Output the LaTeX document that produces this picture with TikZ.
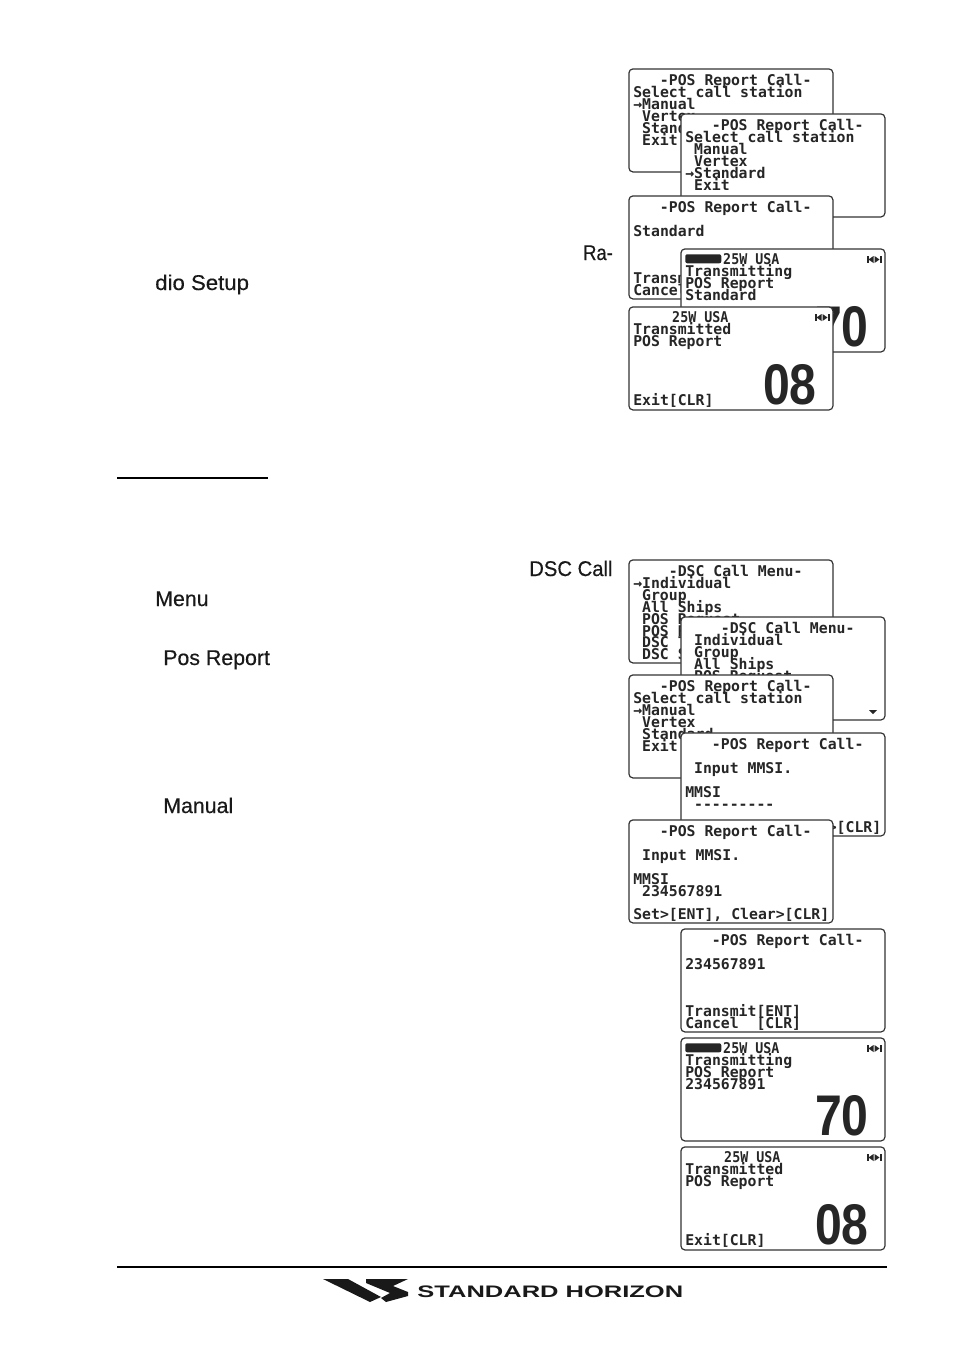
\documentclass[tikz,border=0pt]{standalone}
\usepackage{fontspec}
\setmainfont{Liberation Sans}
\newfontfamily\lcdfont{DejaVu Sans Mono}
\newfontfamily\bodyfont[FakeBold=.4]{Liberation Sans}
\tikzset{
    lcd/.style={draw=black!80,fill=white,line width=.9pt,rounded corners=3pt,anchor=north west,inner sep=0pt,minimum width=153pt,minimum height=77.25pt,xshift=-.5pt,yshift=.5pt},
    lcdtext/.style={anchor=base west,inner sep=0pt,font=\lcdfont\bfseries\fontsize{11.1}{12}\selectfont,text=black!85},
    lcdhead/.style={lcdtext,xscale=.9},
    lcdbig/.style={anchor=base east,inner sep=0pt,font=\bfseries\fontsize{43}{43}\selectfont,xscale=.84,text=black!85},
    lcdpill/.style={anchor=north west,fill=black!85,rounded corners=1.5pt,inner sep=0pt,minimum width=27pt,minimum height=6.75pt},
    bodytext/.style={anchor=base west,inner sep=0pt,font=\bodyfont\fontsize{16}{18}\selectfont,text=black!90},
    gpsmark/.pic={
        \fill[black!85] (-7.5,-3.5) rectangle (-5.5,3.5);
        \fill[black!85] (5.5,-3.5) rectangle (7.5,3.5);
        \fill[black!85] (-5.5,0) -- (-.5,-3.5) -- (-.5,3.5) -- cycle;
        \fill[black!85] (5.5,0) -- (.5,-3.5) -- (.5,3.5) -- cycle;
    }
}
\begin{document}
\begin{tikzpicture}[x=.75pt,y=-.75pt]
    \useasboundingbox (0,0) rectangle (954,1350);

    %%%%%%%%%% Testo %%%%%%%%%%
    \node[bodytext,xscale=.86] (radioA) at (583,260) {Ra-};
    \node[bodytext,xscale=1.04] (radioB) at (155,290) {dio Setup};
    \node[bodytext,xscale=.95] (dscA) at (529,576) {DSC Call};
    \node[bodytext] (dscB) at (155,606) {Menu};
    \node[bodytext] (posrep) at (163,665) {Pos Report};
    \node[bodytext] (manual) at (163,813) {Manual};

    \draw[line width=1.5pt] (117,478) -- (268,478);
    \draw[line width=1.5pt] (117,1267) -- (887,1267);

    %%%%%%%%%% Primo gruppo %%%%%%%%%%
    \begin{scope}[shift={(629,69)}]
        \node[lcd] (selA) at (0,0) {};
        \foreach \row/\ind/\txt in {0/3/-POS Report Call-,1/0/Select call station,2/0/→Manual,3/1/Vertex,4/1/Standard,5/1/Exit}
            \node[lcdtext] (selA\row) at (4+8.9*\ind,16.5+11.9*\row) {\txt};
    \end{scope}
    \begin{scope}[shift={(681,114)}]
        \node[lcd] (selB) at (0,0) {};
        \foreach \row/\ind/\txt in {0/3/-POS Report Call-,1/0/Select call station,2/1/Manual,3/1/Vertex,4/0/→Standard,5/1/Exit}
            \node[lcdtext] (selB\row) at (4+8.9*\ind,16.5+11.9*\row) {\txt};
    \end{scope}
    \begin{scope}[shift={(629,196)}]
        \node[lcd] (stdA) at (0,0) {};
        \foreach \row/\ind/\txt in {0/3/-POS Report Call-,2/0/Standard,6/0/Transmit[ENT],7/0/Cancel\ \ [CLR]}
            \node[lcdtext] (stdA\row) at (4+8.9*\ind,16.5+11.9*\row) {\txt};
    \end{scope}
    \begin{scope}[shift={(681,249)}]
        \node[lcd] (txA) at (0,0) {};
        \node[lcdpill] (txApill) at (4,5) {};
        \node[lcdhead] (txAhead) at (42,15) {25W USA};
        \pic at (193,10.5) {gpsmark};
        \foreach \row/\ind/\txt in {1/0/Transmitting,2/0/POS Report,3/0/Standard}
            \node[lcdtext] (txA\row) at (4+8.9*\ind,15.5+11.9*\row) {\txt};
        \node[lcdbig] (txAnum) at (188,97) {70};
    \end{scope}
    \begin{scope}[shift={(629,307)}]
        \node[lcd] (doneA) at (0,0) {};
        \node[lcdhead] (doneAhead) at (43,15) {25W USA};
        \pic at (193,10.5) {gpsmark};
        \foreach \row/\ind/\txt in {1/0/Transmitted,2/0/POS Report,7/0/Exit[CLR]}
            \node[lcdtext] (doneA\row) at (4+8.9*\ind,15.5+11.9*\row) {\txt};
        \node[lcdbig] (doneAnum) at (188,97) {08};
    \end{scope}

    %%%%%%%%%% Secondo gruppo %%%%%%%%%%
    \begin{scope}[shift={(629,560)}]
        \node[lcd] (menuA) at (0,0) {};
        \foreach \row/\ind/\txt in {0/4/-DSC Call Menu-,1/0/→Individual,2/1/Group,3/1/All Ships,4/1/POS Request,5/1/POS Report,6/1/DSC Test,7/1/DSC Standby}
            \node[lcdtext] (menuA\row) at (4+8.9*\ind,16.5+11.9*\row) {\txt};
    \end{scope}
    \begin{scope}[shift={(681,617)}]
        \node[lcd] (menuB) at (0,0) {};
        \foreach \row/\ind/\txt in {0/4/-DSC Call Menu-,1/1/Individual,2/1/Group,3/1/All Ships,4/1/POS Request}
            \node[lcdtext] (menuB\row) at (4+8.9*\ind,16.5+11.9*\row) {\txt};
        \fill[black!85] (188,93) -- (196,93) -- (192,97) -- cycle;
    \end{scope}
    \begin{scope}[shift={(629,675)}]
        \node[lcd] (selC) at (0,0) {};
        \foreach \row/\ind/\txt in {0/3/-POS Report Call-,1/0/Select call station,2/0/→Manual,3/1/Vertex,4/1/Standard,5/1/Exit}
            \node[lcdtext] (selC\row) at (4+8.9*\ind,16.5+11.9*\row) {\txt};
    \end{scope}
    \begin{scope}[shift={(681,733)}]
        \node[lcd] (mmsiA) at (0,0) {};
        \foreach \row/\ind/\txt in {0/3/-POS Report Call-,2/1/Input MMSI.,4/0/MMSI,5/1/---------,7/0/{Set>[ENT], Clear>[CLR]}}
            \node[lcdtext] (mmsiA\row) at (4+8.9*\ind,16.5+11.9*\row) {\txt};
    \end{scope}
    \begin{scope}[shift={(629,820)}]
        \node[lcd] (mmsiB) at (0,0) {};
        \foreach \row/\ind/\txt in {0/3/-POS Report Call-,2/1/Input MMSI.,4/0/MMSI,5/1/234567891,7/0/{Set>[ENT], Clear>[CLR]}}
            \node[lcdtext] (mmsiB\row) at (4+8.9*\ind,16.5+11.9*\row) {\txt};
    \end{scope}
    \begin{scope}[shift={(681,929)}]
        \node[lcd] (stdB) at (0,0) {};
        \foreach \row/\ind/\txt in {0/3/-POS Report Call-,2/0/234567891,6/0/Transmit[ENT],7/0/Cancel\ \ [CLR]}
            \node[lcdtext] (stdB\row) at (4+8.9*\ind,16.5+11.9*\row) {\txt};
    \end{scope}
    \begin{scope}[shift={(681,1038)}]
        \node[lcd] (txB) at (0,0) {};
        \node[lcdpill] (txBpill) at (4,5) {};
        \node[lcdhead] (txBhead) at (42,15) {25W USA};
        \pic at (193,10.5) {gpsmark};
        \foreach \row/\ind/\txt in {1/0/Transmitting,2/0/POS Report,3/0/234567891}
            \node[lcdtext] (txB\row) at (4+8.9*\ind,15.5+11.9*\row) {\txt};
        \node[lcdbig] (txBnum) at (188,97) {70};
    \end{scope}
    \begin{scope}[shift={(681,1147)}]
        \node[lcd] (doneB) at (0,0) {};
        \node[lcdhead] (doneBhead) at (43,15) {25W USA};
        \pic at (193,10.5) {gpsmark};
        \foreach \row/\ind/\txt in {1/0/Transmitted,2/0/POS Report,7/0/Exit[CLR]}
            \node[lcdtext] (doneB\row) at (4+8.9*\ind,15.5+11.9*\row) {\txt};
        \node[lcdbig] (doneBnum) at (188,97) {08};
    \end{scope}

    %%%%%%%%%% Marchio %%%%%%%%%%
    \fill[black!90] (323,1279) -- (348,1279) -- (381,1297) -- (370,1302) -- cycle;
    \fill[black!90] (366,1279) -- (408,1279) -- (393,1286) -- (408,1292) -- (408,1296) -- (386,1302) -- (381,1298) -- (390,1293) -- (366,1283) -- cycle;
    \node[anchor=base west,inner sep=0pt,font=\bfseries\fontsize{12.5}{14}\selectfont,xscale=1.53,text=black!90] (brand) at (417,1297) {STANDARD HORIZON};
\end{tikzpicture}
\end{document}
